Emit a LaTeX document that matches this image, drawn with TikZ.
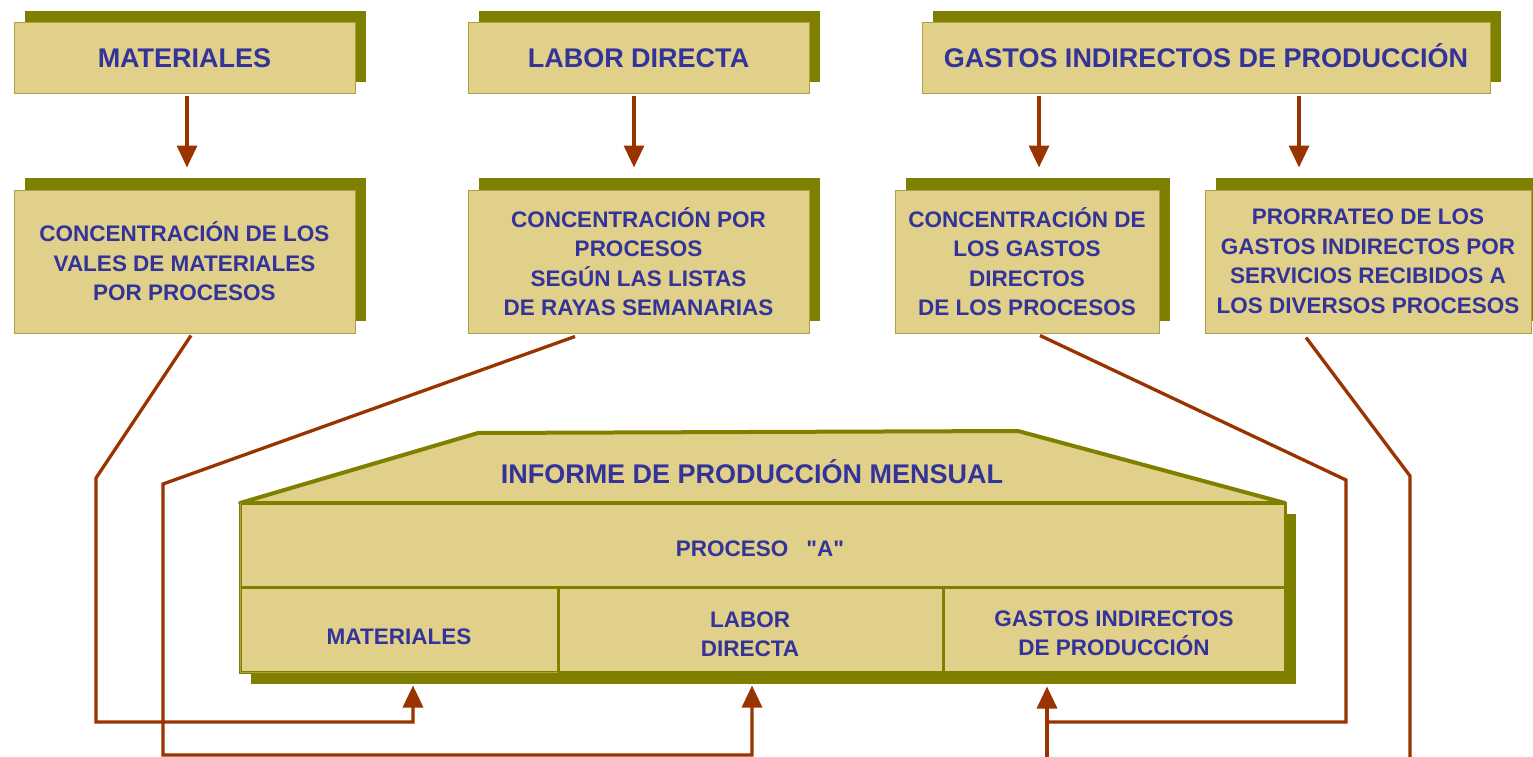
\documentclass[tikz,border=0pt]{standalone}
\usepackage{fontspec}
\setmainfont{Liberation Sans}[Ligatures=TeXOff]
\usetikzlibrary{arrows.meta,shadows}
\definecolor{khaki}{HTML}{E0D08A}
\definecolor{oliv}{HTML}{808000}
\definecolor{txt}{HTML}{333399}
\definecolor{rust}{HTML}{993300}
\definecolor{edgec}{HTML}{B0A040}
\begin{document}
\begin{tikzpicture}[x=1pt,y=-1pt,
  big/.style={font=\fontsize{27}{32}\selectfont\bfseries, text=txt},
  small/.style={font=\fontsize{22.5}{29.5}\selectfont\bfseries, text=txt, align=center},
  card/.style={draw=edgec, line width=1pt, fill=khaki, inner sep=0pt,
    general shadow={fill=oliv, shadow xshift=11pt, shadow yshift=12pt}},
  cell/.style={draw=oliv, line width=3pt, fill=khaki, inner sep=0pt},
  conn/.style={draw=rust, line width=3.3pt},
  arr/.style={conn, -{Triangle[width=20pt,length=22pt]}},
  lbl/.style={inner sep=0pt}
]
\useasboundingbox (0,0) rectangle (1533,757);
\fill[white] (0,0) rectangle (1533,757);

% top row
\node[card, big, minimum width=341pt, minimum height=71pt, text height=19pt, text depth=0pt] (mat) at (184.5,58.5) {MATERIALES};
\node[card, big, minimum width=341pt, minimum height=71pt, text height=19pt, text depth=0pt] (lab) at (638.5,58.5) {LABOR DIRECTA};
\node[card, big, minimum width=568pt, minimum height=71pt, text height=19pt, text depth=0pt] (gas) at (1206,58.5) {GASTOS INDIRECTOS DE PRODUCCIÓN};

% second row
\node[card, small, minimum width=341pt, minimum height=143pt] (c1) at (184.5,261.5) {CONCENTRACIÓN DE LOS\\VALES DE MATERIALES\\POR PROCESOS};
\node[card, small, minimum width=341pt, minimum height=143pt] (c2) at (638.5,261.5) {CONCENTRACIÓN POR\\PROCESOS\\SEGÚN LAS LISTAS\\DE RAYAS SEMANARIAS};
\node[card, small, minimum width=264pt, minimum height=143pt] (c3) at (1027,261.5) {CONCENTRACIÓN DE\\LOS GASTOS\\DIRECTOS\\DE LOS PROCESOS};
\node[card, small, minimum width=326pt, minimum height=143pt] (c4) at (1368,261.5) {PRORRATEO DE LOS\\GASTOS INDIRECTOS POR\\SERVICIOS RECIBIDOS A\\LOS DIVERSOS PROCESOS};

% top arrows
\draw[arr] ([shift={(2.5,2)}]mat.south) -- ([shift={(2.5,-22)}]c1.north);
\draw[arr] ([shift={(-4.5,2)}]lab.south) -- ([shift={(-4.5,-22)}]c2.north);
\draw[arr] ([shift={(-167,2)}]gas.south) -- ([shift={(12,-22)}]c3.north);
\draw[arr] ([shift={(93,2)}]gas.south) -- ([shift={(-69,-22)}]c4.north);

% main report
\fill[oliv] (251,514) rectangle (1296,684);
\draw[draw=oliv, line width=4pt, fill=khaki, line join=round] (240,503) -- (478,433) -- (1018,431) -- (1285,503) -- cycle;
\node[big, lbl, text height=19pt, text depth=0pt] (title) at (752,474) {INFORME DE PRODUCCIÓN MENSUAL};
\node[cell, minimum width=1045pt, minimum height=84pt] (proc) at (762.5,545) {};
\node[cell, minimum width=318pt, minimum height=85pt] (cm) at (399,629.5) {};
\node[cell, minimum width=385pt, minimum height=85pt] (cl) at (750.5,629.5) {};
\node[cell, minimum width=342pt, minimum height=85pt] (cg) at (1114,629.5) {};
\draw[edgec, line width=1pt] (240,503) -- (240,672) -- (558,672);
\node[small, lbl, text height=16pt, text depth=0pt] (tp) at (760,548) {PROCESO\hspace{0.8em}"A"};
\node[small, lbl, text height=16pt, text depth=0pt] (tm) at (399,636) {MATERIALES};
\node[small, lbl] (tl) at (750,634) {LABOR\\DIRECTA};
\node[small, lbl] (tg) at (1114,633) {GASTOS INDIRECTOS\\DE PRODUCCIÓN};

% connectors to report
\coordinate (e4) at (1410,760);
\coordinate (s5) at (1047,760);
\draw[arr] ([shift={(6.5,2)}]c1.south) -- (96,478) -- (96,722) -- (413,722) -- ([shift={(14,12)}]cm.south);
\draw[arr] ([shift={(-63.5,3)}]c2.south) -- (163,484) -- (163,755) -- (752,755) -- ([shift={(1.5,12)}]cl.south);
\draw[conn] ([shift={(13,2)}]c3.south) -- (1346,480) -- (1346,722) -- (1047,722);
\draw[conn] ([shift={(-62,4)}]c4.south) -- (1410,476) -- (e4);
\draw[arr] (s5) -- ([shift={(-67,13)}]cg.south);
\end{tikzpicture}
\end{document}
